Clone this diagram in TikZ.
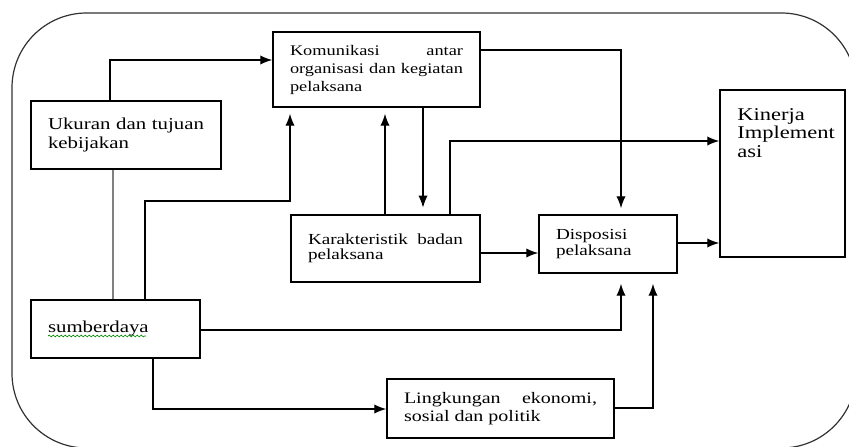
\documentclass[tikz,border=0pt]{standalone}
\usepackage{fontspec}
\newfontfamily\diagfont[FakeStretch=1.25]{Liberation Serif}
\usetikzlibrary{arrows.meta,decorations.pathmorphing}
\hyphenpenalty=10000
\exhyphenpenalty=10000

\tikzset{
    boxnode/.style={draw, rectangle, line width=1.1pt, inner xsep=12.75pt, inner ysep=0pt, align=justify, font=\diagfont\fontsize{11}{13}\selectfont},
    arrowline/.style={line width=1pt, -{Latex[length=9pt,width=7pt]}},
    gapline/.style={arrowline, shorten >=4.5pt},
}

\begin{document}
\begin{tikzpicture}[x=0.75pt,y=0.75pt,yscale=-1,xscale=1]
    \useasboundingbox (0,0) rectangle (849,446);
    \clip (0,0) rectangle (849,446);

    %Rounded Rect [frame]
    \draw[line width=0.9pt, black!80, rounded corners=56pt] (12,13) rectangle (856,448);

    %Shape: Rectangle [komunikasi]
    \node[boxnode, text width=129.75pt, minimum height=56.25pt, font=\diagfont\fontsize{11}{13.5}\selectfont] (komunikasi) at (376.5,69.5) {Komunikasi antar organisasi dan kegiatan pelaksana};
    %Shape: Rectangle [ukuran]
    \node[boxnode, text width=117pt, minimum height=51pt, font=\diagfont\fontsize{12.5}{14}\selectfont] (ukuran) at (126,135) {Ukuran dan tujuan kebijakan};
    %Shape: Rectangle [kinerja]
    \node[draw, rectangle, line width=1.1pt, minimum width=93.75pt, minimum height=125.25pt] (kinerja) at (782.5,173.5) {};
    %Shape: Rectangle [karakteristik]
    \node[boxnode, text width=116.25pt, minimum height=50.25pt, font=\diagfont\fontsize{11.5}{11.5}\selectfont] (karakteristik) at (385.5,248.5) {Karakteristik badan pelaksana};
    %Shape: Rectangle [disposisi]
    \node[boxnode, text width=78pt, minimum height=43.5pt, align=left, font=\diagfont\fontsize{11.5}{12}\selectfont] (disposisi) at (608,244) {Disposisi pelaksana};
    %Shape: Rectangle [sumberdaya]
    \node[boxnode, text width=101.25pt, minimum height=43.5pt, align=left, font=\diagfont\fontsize{12.5}{14}\selectfont] (sumberdaya) at (115.5,329) {sumberdaya};
    %Shape: Rectangle [lingkungan]
    \node[boxnode, text width=144.75pt, minimum height=44.25pt, font=\diagfont\fontsize{12}{13}\selectfont] (lingkungan) at (500.5,408.5) {Lingkungan ekonomi, sosial dan politik};

    % Text Node
    \node[anchor=north west, inner sep=0pt, align=left, font=\diagfont\fontsize{13.5}{14}\selectfont] (kinerjatext) at (737,108) {Kinerja\\Implement\\asi};

    %spell check mark
    \draw[green!55!black, line width=0.5pt, decorate, decoration={snake, amplitude=0.7pt, segment length=3pt}] (48,336) -- (146,336);

    %bend points
    \coordinate (b1) at (110,60);
    \coordinate (g1) at (113,200);
    \coordinate (b3a) at (145,201);
    \coordinate (b3b) at (290,201);
    \coordinate (c4) at (385,160);
    \coordinate (c5) at (423,160);
    \coordinate (b6) at (621,50);
    \coordinate (b7) at (450,141);
    \coordinate (c8) at (500,253);
    \coordinate (c9) at (700,243);
    \coordinate (b10) at (621,330);
    \coordinate (b11) at (653,408);
    \coordinate (b12) at (153,409);

    %Connectors
    \draw[arrowline] (b1 |- ukuran.north) -- (b1) -- (b1 -| komunikasi.west);
    \draw[black!50, line width=1.8pt] (g1 |- ukuran.south) -- (g1 |- sumberdaya.north);
    \draw[gapline] (b3a |- sumberdaya.north) -- (b3a) -- (b3b) -- (b3b |- komunikasi.south);
    \draw[gapline] (c4 |- karakteristik.north) -- (c4 |- komunikasi.south);
    \draw[gapline, shorten >=5pt] (c5 |- komunikasi.south) -- (c5 |- karakteristik.north);
    \draw[gapline] (b6 -| komunikasi.east) -- (b6) -- (b6 |- disposisi.north);
    \draw[arrowline] (b7 |- karakteristik.north) -- (b7) -- (b7 -| kinerja.west);
    \draw[arrowline] (c8 -| karakteristik.east) -- (c8 -| disposisi.west);
    \draw[arrowline] (c9 -| disposisi.east) -- (c9 -| kinerja.west);
    \draw[gapline, shorten >=7.5pt] (b10 -| sumberdaya.east) -- (b10) -- (b10 |- disposisi.south);
    \draw[gapline, shorten >=7.5pt] (b11 -| lingkungan.east) -- (b11) -- (b11 |- disposisi.south);
    \draw[arrowline] (b12 |- sumberdaya.south) -- (b12) -- (b12 -| lingkungan.west);

\end{tikzpicture}
\end{document}
